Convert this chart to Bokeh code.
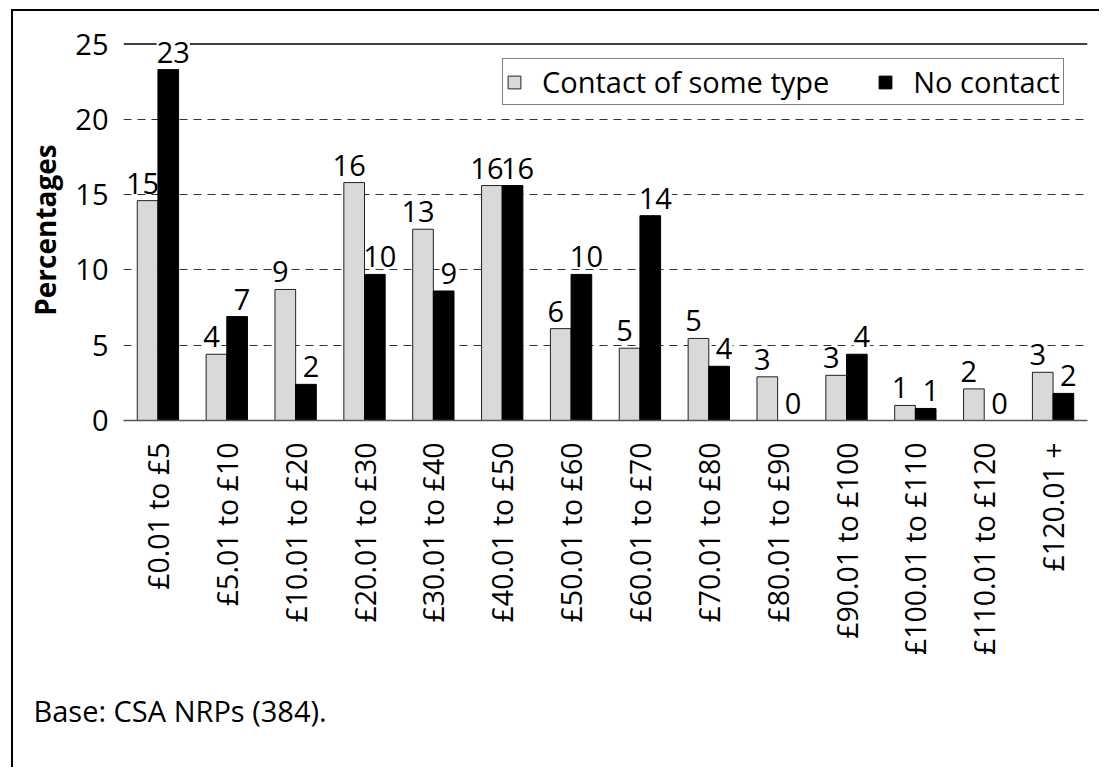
import math
from bokeh.plotting import figure
from bokeh.models import (ColumnDataSource, FactorRange, Range1d, FixedTicker, Span,
                          Legend, LegendItem, LabelSet, Title)
from bokeh.transform import dodge
from bokeh.core.properties import value
from bokeh.embed import file_html
from bokeh.resources import INLINE

categories = ["£0.01 to £5", "£5.01 to £10", "£10.01 to £20", "£20.01 to £30",
              "£30.01 to £40", "£40.01 to £50", "£50.01 to £60", "£60.01 to £70",
              "£70.01 to £80", "£80.01 to £90", "£90.01 to £100", "£100.01 to £110",
              "£110.01 to £120", "£120.01 +"]
contact = [14.6, 4.4, 8.7, 15.8, 12.7, 15.6, 6.1, 4.8, 5.45, 2.9, 3.0, 1.0, 2.1, 3.2]
no_contact = [23.3, 6.9, 2.4, 9.7, 8.6, 15.6, 9.7, 13.6, 3.6, 0.0, 4.4, 0.8, 0.0, 1.8]
series_names = ["Contact of some type", "No contact"]
y_ticks = [0, 5, 10, 15, 20, 25]
grid_ticks = [5, 10, 15, 20]
y_title = "Percentages"
note = "Base: CSA NRPs (384)."

FONT = "Open Sans"
FS = "29px"

src = ColumnDataSource(dict(
    cat=categories, c=contact, n=no_contact,
    cl=[f"{v:.0f}" for v in contact], nl=[f"{v:.0f}" for v in no_contact]))

p = figure(x_range=FactorRange(factors=categories), y_range=Range1d(0, 25.3),
           width=1088, height=758, output_backend="svg", toolbar_location=None,
           min_border_left=110, min_border_right=14, min_border_top=28, min_border_bottom=349)
p.styles = {"border-top": "2px solid black", "border-left": "2px solid black",
            "margin-left": "11px", "margin-top": "9px"}
p.outline_line_color = None
p.background_fill_color = "white"
p.border_fill_color = "white"

# grid
p.xgrid.grid_line_color = None
p.ygrid.ticker = FixedTicker(ticks=grid_ticks)
p.ygrid.grid_line_color = "#333333"
p.ygrid.grid_line_dash = "8 6"
p.ygrid.grid_line_width = 1
p.add_layout(Span(location=y_ticks[-1], dimension="width", line_color="black",
                  line_width=1.5, level="underlay"))

# bars
r1 = p.vbar(x=dodge("cat", -0.15, range=p.x_range), top="c", width=0.3, source=src,
            fill_color="#d9d9d9", line_color="#222222", line_width=1)
r2 = p.vbar(x=dodge("cat", 0.15, range=p.x_range), top="n", width=0.3, source=src,
            fill_color="black", line_color="black", line_width=1)

for off, col, lab, xo in ((0.15, "n", "nl", 5), (-0.15, "c", "cl", -5)):
    ls = LabelSet(x=dodge("cat", off, range=p.x_range), y=col, text=lab, source=src,
                  x_offset=xo, y_offset=7,
                  text_align="center", text_baseline="bottom",
                  text_font=value(FONT), text_font_size=value(FS), text_color="black",
                  background_fill_color="white", level="underlay")
    p.add_layout(ls)

# axes
p.xaxis.axis_line_color = "#555555"
p.xaxis.axis_line_width = 1.5
p.xaxis.major_tick_line_color = None
p.xaxis.minor_tick_line_color = None
p.xaxis.major_label_orientation = math.pi / 2
p.xaxis.major_label_text_font = FONT
p.xaxis.major_label_text_font_size = "28.5px"
p.xaxis.major_label_text_color = "black"
p.xaxis.major_label_standoff = 16

p.yaxis.ticker = FixedTicker(ticks=y_ticks)
p.yaxis.axis_line_color = None
p.yaxis.major_tick_line_color = None
p.yaxis.minor_tick_line_color = None
p.yaxis.major_label_standoff = 9
p.yaxis.major_label_text_font = FONT
p.yaxis.major_label_text_font_size = FS
p.yaxis.major_label_text_color = "black"
p.yaxis.axis_label = y_title
p.yaxis.axis_label_text_font = FONT
p.yaxis.axis_label_text_font_size = "28px"
p.yaxis.axis_label_text_font_style = "bold"
p.yaxis.axis_label_text_color = "black"
p.yaxis.axis_label_standoff = 8

legend = Legend(items=[LegendItem(label=series_names[0], renderers=[r1]),
                       LegendItem(label=series_names[1], renderers=[r2])],
                orientation="horizontal", location=(379, 315),
                border_line_color="black", border_line_width=1,
                background_fill_color="white", background_fill_alpha=1,
                label_text_font=FONT, label_text_font_size=FS, label_text_color="black",
                glyph_width=16, glyph_height=16, label_standoff=20, spacing=48,
                padding=3, margin=0)
p.add_layout(legend)

p.add_layout(Title(text=note, align="left", offset=-90, standoff=61,
                   text_font=FONT, text_font_size=FS, text_font_style="normal",
                   text_color="black"), "below")

open("out.html", "w").write(file_html(p, INLINE))
